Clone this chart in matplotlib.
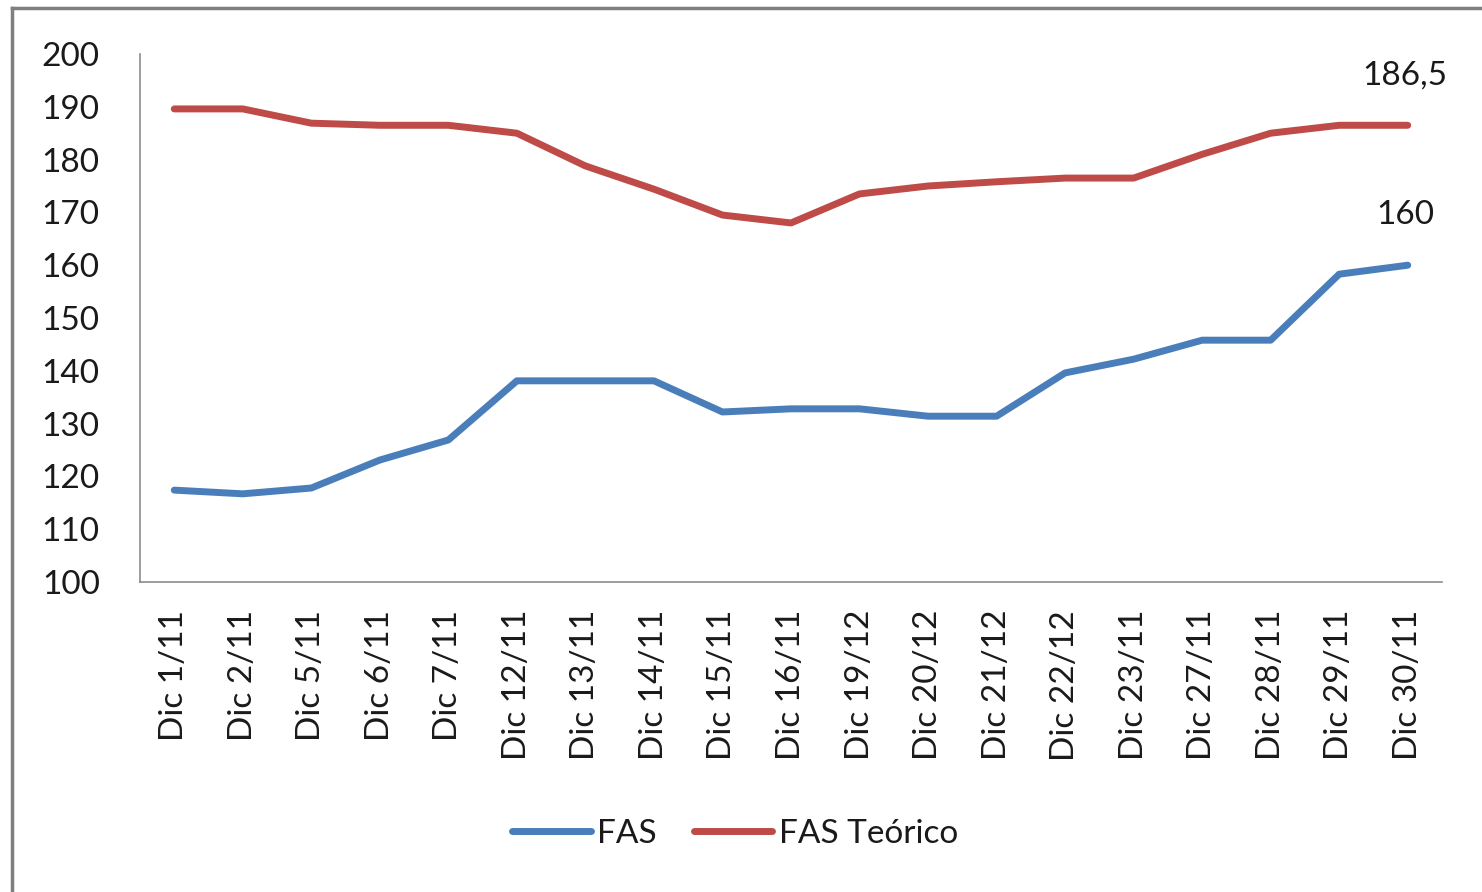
import matplotlib.pyplot as plt
from matplotlib.lines import Line2D

plt.rcParams['font.family'] = ['Lato', 'DejaVu Sans']

# Datos
fechas = ['Dic 1/11', 'Dic 2/11', 'Dic 5/11', 'Dic 6/11', 'Dic 7/11', 'Dic 12/11',
          'Dic 13/11', 'Dic 14/11', 'Dic 15/11', 'Dic 16/11', 'Dic 19/12', 'Dic 20/12',
          'Dic 21/12', 'Dic 22/12', 'Dic 23/11', 'Dic 27/11', 'Dic 28/11', 'Dic 29/11',
          'Dic 30/11']
fas = [117.4, 116.7, 117.8, 123.1, 126.9, 138.1, 138.1, 138.1, 132.2, 132.8,
       132.8, 131.4, 131.4, 139.6, 142.2, 145.8, 145.8, 158.3, 160]
fas_teorico = [189.6, 189.6, 186.9, 186.5, 186.5, 185, 178.8, 174.4, 169.5, 168,
               173.5, 175, 175.8, 176.5, 176.5, 181, 185, 186.5, 186.5]
etiquetas_fin = ['160', '186,5']

azul = '#4A7EBB'
rojo = '#BE4B48'
gris = '#8C8C8C'
negro = '#1a1a1a'

fig = plt.figure(figsize=(14.82, 8.92), dpi=100)
ax = fig.add_axes([140 / 1482, 1 - 582 / 892, 1302 / 1482, 528 / 892])

x = list(range(len(fechas)))
ax.plot(x, fas, color=azul, lw=5, solid_capstyle='round', label='FAS')
ax.plot(x, fas_teorico, color=rojo, lw=5, solid_capstyle='round', label='FAS Teórico')

# Etiquetas del último punto
ax.annotate(etiquetas_fin[0], (x[-1], fas[-1]), xytext=(-2, 36), textcoords='offset points',
            ha='center', va='center', fontsize=24, color=negro)
ax.annotate(etiquetas_fin[1], (x[-1], fas_teorico[-1]), xytext=(-2, 36), textcoords='offset points',
            ha='center', va='center', fontsize=24, color=negro)

ax.set_xlim(-0.5, len(fechas) - 0.5)
ax.set_ylim(100, 200)
ax.set_yticks(range(100, 201, 10))
ax.set_xticks(x)
ax.set_xticklabels(fechas, rotation=90, fontsize=24, color=negro)
ax.tick_params(axis='both', length=0, labelsize=24, colors=negro)
ax.tick_params(axis='x', pad=20)
ax.tick_params(axis='y', pad=29)

for s in ['top', 'right']:
    ax.spines[s].set_visible(False)
for s in ['left', 'bottom']:
    ax.spines[s].set_color(gris)
    ax.spines[s].set_linewidth(1.2)

leg = fig.legend(loc='center', bbox_to_anchor=(735 / 1482, 1 - 834 / 892), ncol=2, frameon=False,
                 fontsize=24, handlelength=2.35, handletextpad=0.2, columnspacing=1.1)
for t in leg.get_texts():
    t.set_color(negro)

# Marco exterior
fig.add_artist(Line2D([12 / 1482, 12 / 1482], [0, 1 - 8 / 892], color='#7f7f7f', lw=2.5,
                      transform=fig.transFigure))
fig.add_artist(Line2D([12 / 1482, 1], [1 - 8 / 892, 1 - 8 / 892], color='#7f7f7f', lw=2.5,
                      transform=fig.transFigure))

fig.savefig('out.png', dpi=100)
